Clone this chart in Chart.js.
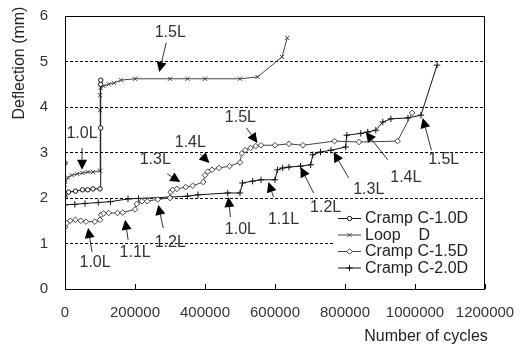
<!DOCTYPE html>
<html><head><meta charset="utf-8">
<script src="https://cdn.jsdelivr.net/npm/chart.js@4/dist/chart.umd.min.js"></script>
<style>html,body{margin:0;padding:0;background:#fff}#wrap{width:526px;height:346px}</style>
</head><body><div id="wrap"><canvas id="c" width="526" height="346"></canvas></div>
<script>
// ---- data ----
const seriesNames = ['Cramp C-1.0D', 'Loop    D', 'Cramp C-1.5D', 'Cramp C-2.0D'];

const c10Cycles = [0, 0, 10000, 30000, 50000, 65000, 80000, 100000, 102000, 102000, 102000];
const c10Defl   = [2.77, 2.02, 2.13, 2.15, 2.18, 2.18, 2.2, 2.2, 3.54, 4.5, 4.59];

const loopCycles = [0, 8000, 20000, 35000, 50000, 65000, 80000, 100000, 100000, 100000, 102000, 110000, 125000, 140000, 160000, 200000, 300000, 350000, 400000, 500000, 550000, 620000, 635000];
const loopDefl   = [2.29, 2.45, 2.5, 2.53, 2.55, 2.57, 2.57, 2.6, 3.93, 4.26, 4.42, 4.46, 4.5, 4.53, 4.59, 4.62, 4.62, 4.62, 4.62, 4.62, 4.66, 5.1, 5.52];

const c15Cycles = [0, 5000, 15000, 30000, 45000, 60000, 85000, 100000, 103000, 110000, 125000, 150000, 165000, 200000, 205000, 220000, 235000, 265000, 300000, 302000, 308000, 320000, 345000, 365000, 395000, 400000, 408000, 420000, 440000, 470000, 500000, 505000, 515000, 530000, 545000, 560000, 600000, 640000, 680000, 770000, 840000, 950000, 992000];
const c15Defl   = [1.36, 1.45, 1.5, 1.52, 1.5, 1.48, 1.48, 1.52, 1.63, 1.66, 1.67, 1.67, 1.68, 1.75, 1.87, 1.93, 1.93, 1.97, 2.0, 2.13, 2.18, 2.2, 2.24, 2.27, 2.35, 2.5, 2.58, 2.62, 2.66, 2.7, 2.78, 2.98, 3.05, 3.1, 3.14, 3.16, 3.16, 3.19, 3.16, 3.25, 3.23, 3.25, 3.87];

const c20Cycles = [0, 28000, 57000, 95000, 130000, 180000, 210000, 300000, 350000, 380000, 465000, 500000, 507000, 536000, 560000, 600000, 607000, 622000, 640000, 673000, 702000, 708000, 730000, 760000, 802000, 805000, 845000, 865000, 888000, 908000, 931000, 980000, 1017000, 1063000];
const c20Defl   = [1.85, 1.86, 1.88, 1.9, 1.92, 1.98, 1.99, 2.02, 2.04, 2.07, 2.11, 2.11, 2.33, 2.37, 2.4, 2.4, 2.62, 2.66, 2.68, 2.7, 2.73, 2.95, 3.01, 3.05, 3.12, 3.38, 3.42, 3.45, 3.49, 3.67, 3.74, 3.76, 3.82, 4.92];

const xTicks = [0, 200000, 400000, 600000, 800000, 1000000, 1200000];
const yTicks = [0, 1, 2, 3, 4, 5, 6];
const xTitle = 'Number of cycles';
const yTitle = 'Deflection (mm)';

// load-level annotations (data coordinates: cycles, mm)
const annotations = [
  {t:'1.5L', lx:300700, ly:5.63, tx:289200, ty:5.41, hx:269200, hy:4.77},
  {t:'1.0L', lx:48700,  ly:3.41, tx:48700,  ty:3.10, hx:48700,  hy:2.62},
  {t:'1.3L', lx:257800, ly:2.84, tx:292100, ty:2.53, hx:329400, hy:2.35},
  {t:'1.4L', lx:358000, ly:3.21, tx:386600, ty:2.97, hx:412400, hy:2.77},
  {t:'1.5L', lx:501200, ly:3.76, tx:518400, ty:3.54, hx:549900, hy:3.21},
  {t:'1.0L', lx:85900,  ly:0.57, tx:77300,  ty:0.81, hx:65900,  hy:1.34},
  {t:'1.1L', lx:200500, ly:0.79, tx:180400, ty:1.08, hx:171800, hy:1.52},
  {t:'1.2L', lx:300700, ly:1.03, tx:280700, ty:1.34, hx:266400, hy:1.85},
  {t:'1.0L', lx:501200, ly:1.30, tx:472600, ty:1.58, hx:466800, hy:2.02},
  {t:'1.1L', lx:624400, ly:1.52, tx:595700, ty:2.02, hx:581400, hy:2.35},
  {t:'1.2L', lx:744600, ly:1.80, tx:710300, ty:2.11, hx:673000, hy:2.68},
  {t:'1.3L', lx:867800, ly:2.18, tx:810500, ty:2.44, hx:767600, hy:3.01},
  {t:'1.4L', lx:973800, ly:2.44, tx:922200, ty:2.84, hx:859200, hy:3.45},
  {t:'1.5L', lx:1082000, ly:2.84, tx:1047000, ty:3.05, hx:1022000, hy:3.76}
];

const pts = (xs, ys) => xs.map((x, i) => ({x: x, y: ys[i]}));
const FONT = "'Liberation Sans', Arial, sans-serif";

const datasets = [
  {label: seriesNames[0], data: pts(c10Cycles, c10Defl), borderColor:'#111', backgroundColor:'#fff',
   pointStyle:'circle', pointRadius:2.2, pointBorderWidth:1, borderWidth:1},
  {label: seriesNames[1], data: pts(loopCycles, loopDefl), borderColor:'#444', backgroundColor:'#444',
   pointStyle:'crossRot', pointRadius:3, pointBorderWidth:1, borderWidth:1},
  {label: seriesNames[2], data: pts(c15Cycles, c15Defl), borderColor:'#444', backgroundColor:'#fff',
   pointStyle:'rectRot', pointRadius:2.8, pointBorderWidth:1, borderWidth:1},
  {label: seriesNames[3], data: pts(c20Cycles, c20Defl), borderColor:'#111', backgroundColor:'#111',
   pointStyle:'cross', pointRadius:3.2, pointBorderWidth:1, borderWidth:1}
];

const decor = {
  id: 'decor',
  beforeDatasetsDraw(chart) {
    const ctx = chart.ctx;
    ctx.save();
    ctx.fillStyle = '#fff';
    ctx.fillRect(333, 205, 151, 81);
    ctx.restore();
  },
  afterDraw(chart) {
    const ctx = chart.ctx, xs = chart.scales.x, ys = chart.scales.y, a = chart.chartArea;
    ctx.save();
    // frame
    ctx.strokeStyle = '#000'; ctx.lineWidth = 1; ctx.setLineDash([]);
    ctx.strokeRect(a.left + 0.5, a.top + 0.5, a.right - a.left - 1, a.bottom - a.top);
    // inward x ticks
    ctx.beginPath();
    xTicks.forEach(v => { const px = Math.round(xs.getPixelForValue(v)) + 0.5; ctx.moveTo(px, a.bottom); ctx.lineTo(px, a.bottom - 5); });
    ctx.stroke();
    // axis titles
    ctx.fillStyle = '#222'; ctx.font = '16px ' + FONT; ctx.textAlign = 'center'; ctx.textBaseline = 'middle';
    ctx.fillText(xTitle, 426, 337);
    ctx.translate(20, 63); ctx.rotate(-Math.PI / 2); ctx.fillText(yTitle, 0, 0);
    ctx.restore();

    // annotations
    ctx.save();
    ctx.font = '16px ' + FONT; ctx.textAlign = 'center'; ctx.textBaseline = 'middle';
    annotations.forEach(n => {
      const lx = xs.getPixelForValue(n.lx), ly = ys.getPixelForValue(n.ly);
      const tx = xs.getPixelForValue(n.tx), ty = ys.getPixelForValue(n.ty);
      const hx = xs.getPixelForValue(n.hx), hy = ys.getPixelForValue(n.hy);
      ctx.fillStyle = '#333'; ctx.fillText(n.t, lx, ly);
      ctx.strokeStyle = '#333'; ctx.lineWidth = 1;
      const ang = Math.atan2(hy - ty, hx - tx);
      const L = 10, W = 5;
      const bx = hx - L * Math.cos(ang), by = hy - L * Math.sin(ang);
      ctx.beginPath(); ctx.moveTo(tx, ty); ctx.lineTo(bx, by); ctx.stroke();
      ctx.fillStyle = '#000';
      ctx.beginPath();
      ctx.moveTo(hx, hy);
      ctx.lineTo(bx + W * Math.sin(ang), by - W * Math.cos(ang));
      ctx.lineTo(bx - W * Math.sin(ang), by + W * Math.cos(ang));
      ctx.closePath(); ctx.fill();
    });
    ctx.restore();

    // legend
    ctx.save();
    ctx.font = '16px ' + FONT; ctx.textAlign = 'left'; ctx.textBaseline = 'middle';
    const rows = [218, 234.5, 251, 267.5];
    chart.data.datasets.forEach((d, i) => {
      const y = rows[i];
      ctx.strokeStyle = d.borderColor; ctx.lineWidth = 1;
      ctx.beginPath(); ctx.moveTo(338, y + 0.5); ctx.lineTo(361, y + 0.5); ctx.stroke();
      ctx.fillStyle = d.backgroundColor;
      Chart.helpers.drawPoint(ctx, {pointStyle: d.pointStyle, radius: d.pointRadius, borderWidth: 1, rotation: 0}, 349.5, y + 0.5);
      ctx.fillStyle = '#222';
      ctx.fillText(d.label, 365, y + 1);
    });
    ctx.restore();
  }
};

new Chart(document.getElementById('c'), {
  type: 'line',
  data: {datasets: datasets},
  options: {
    responsive: false, animation: false, devicePixelRatio: 1,
    layout: {padding: {top: 16, right: 41, left: 0, bottom: 0}},
    plugins: {legend: {display: false}, tooltip: {enabled: false}},
    elements: {line: {tension: 0}},
    scales: {
      x: {
        type: 'linear', min: 0, max: 1200000,
        afterFit: s => { s.height = 57; s.paddingLeft = 0; s.paddingRight = 0; },
        afterBuildTicks: s => { s.ticks = xTicks.map(v => ({value: v})); },
        grid: {display: false, drawTicks: false},
        border: {display: false},
        ticks: {color: '#333', font: {family: FONT, size: 15}, padding: 15, maxRotation: 0, autoSkip: false,
                callback: v => String(v)}
      },
      y: {
        type: 'linear', min: 0, max: 6,
        afterFit: s => { s.width = 65; s.paddingTop = 0; s.paddingBottom = 0; },
        afterBuildTicks: s => { s.ticks = yTicks.map(v => ({value: v})); },
        grid: {display: true, drawTicks: false, color: '#000', lineWidth: 1},
        border: {display: false, dash: [3, 2]},
        ticks: {color: '#333', font: {family: FONT, size: 15}, padding: 17}
      }
    }
  },
  plugins: [decor]
});
</script>
</body></html>
